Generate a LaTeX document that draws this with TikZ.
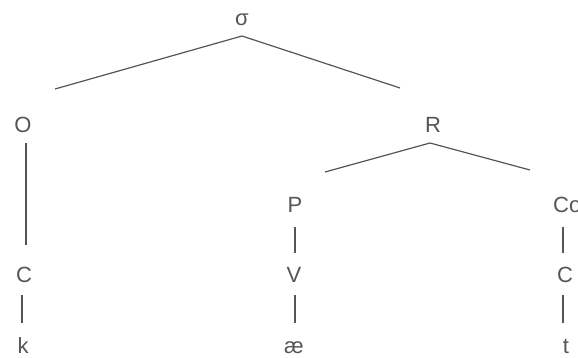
\documentclass[tikz,border=0pt]{standalone}
\usepackage{fontspec}
\setmainfont{Liberation Sans}
\definecolor{ink}{RGB}{85,85,85}
\begin{document}
\begin{tikzpicture}[x=1pt,y=-1pt,
  lab/.style={inner sep=0pt,anchor=base,text=ink,font=\fontsize{22}{24}\selectfont},
  edge/.style={draw=ink,line width=1.2pt}]
\useasboundingbox (0,0) rectangle (578,358);
\clip (0,0) rectangle (578,358);
% labels
\node[lab] (sigma) at (242,26) {σ};
\node[lab] (O) at (23,133) {O};
\node[lab] (R) at (433,133) {R};
\node[lab] (P) at (295,213) {P};
\node[lab,anchor=base west] (Co) at (553,213) {Co};
\node[lab] (C1) at (24,282) {C};
\node[lab] (V) at (294,282) {V};
\node[lab] (C2) at (565,282) {C};
\node[lab] (k) at (23,353) {k};
\node[lab] (ae) at (294,353) {æ};
\node[lab] (t) at (566,353) {t};
% line ends
\coordinate (sApex) at (242,36);
\coordinate (sL) at (55,89);
\coordinate (sR) at (400,88);
\coordinate (rApex) at (430,143);
\coordinate (rL) at (325,172);
\coordinate (rR) at (530,170);
\coordinate (oT) at (26,143);
\coordinate (oB) at (26,245);
\coordinate (kT) at (22,295);
\coordinate (kB) at (22,323);
\coordinate (pT) at (295,227);
\coordinate (pB) at (295,253);
\coordinate (vT) at (295,295);
\coordinate (vB) at (295,323);
\coordinate (cT) at (563,227);
\coordinate (cB) at (563,253);
\coordinate (tT) at (563,295);
\coordinate (tB) at (563,323);
% connectors
\draw[edge] (sL) -- (sApex) -- (sR);
\draw[edge] (rL) -- (rApex) -- (rR);
\draw[edge] (oT) -- (oB);
\draw[edge] (kT) -- (kB);
\draw[edge] (pT) -- (pB);
\draw[edge] (vT) -- (vB);
\draw[edge] (cT) -- (cB);
\draw[edge] (tT) -- (tB);
\end{tikzpicture}
\end{document}
